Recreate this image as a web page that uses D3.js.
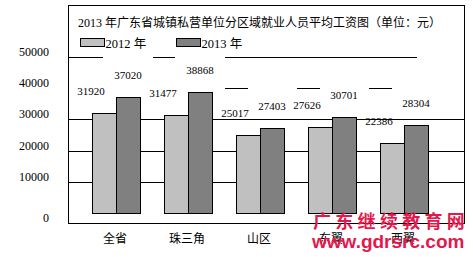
<!DOCTYPE html>
<meta charset="utf-8">
<script src="https://d3js.org/d3.v7.min.js"></script>
<style>
  body { margin: 0; background: #fff; }
  text { font-family: "Liberation Serif", "Noto Sans CJK SC", serif; }
</style>
<div id="chart"></div>
<script>

// data
var regions = ["全省", "珠三角", "山区", "东翼", "西翼"];
var seriesNames = ["2012 年", "2013 年"];
var wage2012 = [31920, 31477, 25017, 27626, 22386];
var wage2013 = [37020, 38868, 27403, 30701, 28304];
var yTicks = [0, 10000, 20000, 30000, 40000, 50000];
var title = "2013 年广东省城镇私营单位分区域就业人员平均工资图（单位：元）";

var colors = ["#c0c0c0", "#808080"];

var width = 473, height = 257;

var svg = d3.select("#chart")
    .append("svg")
    .attr("width", width)
    .attr("height", height);

// frame of the chart
svg.append("rect")
    .attr("x", 68.5).attr("y", 5.5)
    .attr("width", 396).attr("height", 218)
    .attr("fill", "white")
    .attr("stroke", "black");

var x = d3.scaleBand()
    .domain(regions)
    .range([68, 452])
    .paddingInner(1 / 3)
    .paddingOuter(1 / 3);

var xs = d3.scaleBand()
    .domain(seriesNames)
    .range([0, x.bandwidth()]);

var y = d3.scaleLinear()
    .domain([0, 50000])
    .range([213, 57]);

// gridlines, the lower ones run full width (bars sit on top)
svg.selectAll(".grid")
    .data([10000, 20000, 30000])
    .enter().append("line")
    .attr("x1", 69).attr("x2", 464)
    .attr("y1", function (d) { return Math.round(y(d)) + 0.5; })
    .attr("y2", function (d) { return Math.round(y(d)) + 0.5; })
    .attr("stroke", "black");

// top two gridlines only show between the label boxes
var b = function (i) { return x(regions[i]); };
var topSegs = [
    [50000, 69, b(0) + 11],
    [50000, b(1) - 11, b(1) + 11],
    [50000, b(2) - 11, b(4) + 37],
    [40000, b(2) - 11, b(2) + 12],
    [40000, b(3) - 11, b(3) + 12],
    [40000, b(4) - 11, b(4) + 12]
];
svg.selectAll(".seg")
    .data(topSegs)
    .enter().append("line")
    .attr("x1", function (d) { return d[1]; })
    .attr("x2", function (d) { return d[2]; })
    .attr("y1", function (d) { return Math.round(y(d[0])) + 0.5; })
    .attr("y2", function (d) { return Math.round(y(d[0])) + 0.5; })
    .attr("stroke", "black");

// y tick labels
svg.selectAll(".ytick")
    .data(yTicks)
    .enter().append("text")
    .attr("x", 49)
    .attr("y", function (d) { return d === 0 ? y(d) + 9 : y(d) - 1; })
    .attr("text-anchor", "end")
    .style("font-size", "12px")
    .text(function (d) { return d; });

// bars
var rows = regions.map(function (r, i) {
    return { region: r, values: [wage2012[i], wage2013[i]] };
});

var groups = svg.selectAll(".group")
    .data(rows)
    .enter().append("g")
    .attr("transform", function (d) { return "translate(" + x(d.region) + ",0)"; });

groups.selectAll("rect")
    .data(function (d) { return d.values.map(function (v, k) { return { k: k, v: v }; }); })
    .enter().append("rect")
    .attr("x", function (d) { return xs(seriesNames[d.k]) + 0.5; })
    .attr("y", function (d) { return Math.round(y(d.v)) + 0.5; })
    .attr("width", xs.bandwidth())
    .attr("height", function (d) { return Math.round(y(0)) - Math.round(y(d.v)); })
    .attr("fill", function (d) { return colors[d.k]; })
    .attr("stroke", "black");

// value labels
groups.selectAll(".val")
    .data(function (d) { return d.values.map(function (v, k) { return { k: k, v: v }; }); })
    .enter().append("text")
    .attr("x", function (d) { return d.k === 0 ? xs(seriesNames[0]) - 1 : xs(seriesNames[1]) + xs.bandwidth() / 2; })
    .attr("y", function (d) { return y(d.v) - 18; })
    .attr("text-anchor", "middle")
    .style("font-size", "11px")
    .text(function (d) { return d.v; });

// category labels
svg.selectAll(".cat")
    .data(regions)
    .enter().append("text")
    .attr("x", function (d) { return x(d) + x.bandwidth() / 2 - 1; })
    .attr("y", 243)
    .attr("text-anchor", "middle")
    .style("font-size", "12px")
    .text(function (d) { return d; });

// title
svg.append("text")
    .attr("x", 78)
    .attr("y", 27)
    .style("font-size", "12px")
    .text(title);

// legend
var legend = svg.selectAll(".legend")
    .data(seriesNames)
    .enter().append("g")
    .attr("transform", function (d, i) { return "translate(" + (80.5 + i * 96) + ",38.5)"; });

legend.append("rect")
    .attr("width", 24).attr("height", 8)
    .attr("fill", function (d, i) { return colors[i]; })
    .attr("stroke", "black");

legend.append("text")
    .attr("x", 25)
    .attr("y", 9)
    .style("font-size", "12.5px")
    .text(function (d) { return d; });

// watermark of the source site
svg.append("text")
    .attr("x", 313)
    .attr("y", 228)
    .attr("fill", "#e3184c")
    .style("font-family", "Noto Sans CJK SC")
    .style("font-weight", "bold")
    .style("font-size", "18px")
    .style("letter-spacing", "4.3px")
    .text("广东继续教育网");

svg.append("text")
    .attr("x", 312)
    .attr("y", 248)
    .attr("fill", "#e3184c")
    .style("font-family", "Liberation Sans")
    .style("font-weight", "bold")
    .style("font-size", "19px")
    .text("www.gdrsrc.com");
</script>
